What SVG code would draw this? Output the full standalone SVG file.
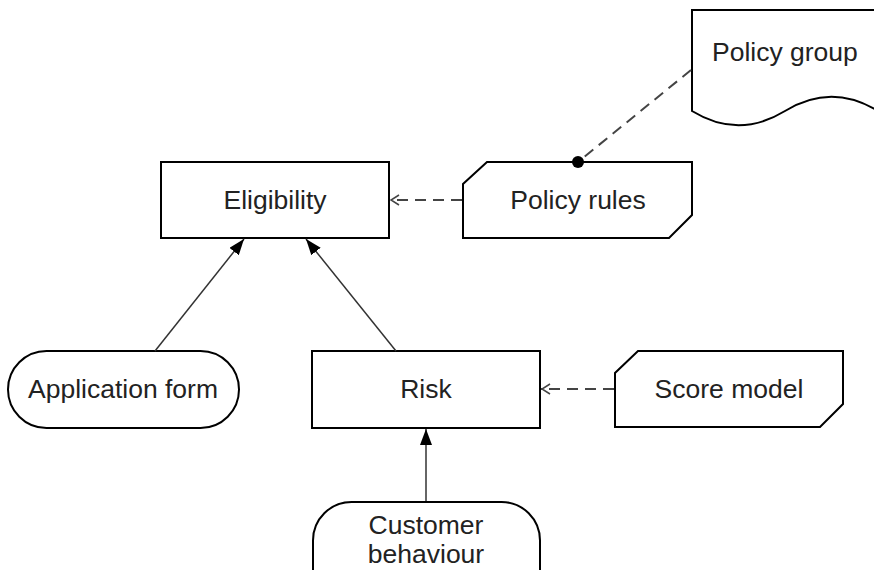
<svg xmlns="http://www.w3.org/2000/svg" width="874" height="570" viewBox="0 0 874 570">
<defs>
<style>
.shape{fill:#fff;stroke:#000;stroke-width:2}
.lbl{font-family:"Liberation Sans",Arial,sans-serif;font-size:26.5px;fill:#222;text-anchor:middle}
.solid{stroke:#333;stroke-width:1.5;fill:none}
.dash{stroke:#444;stroke-width:2;fill:none;stroke-dasharray:11 7}
</style>
<marker id="tri" viewBox="0 0 16 12" refX="16" refY="6" markerWidth="16" markerHeight="12" markerUnits="userSpaceOnUse" orient="auto">
<path d="M0,0 L16,6 L0,12 Z" fill="#000"/>
</marker>
<marker id="open" viewBox="0 0 10 12" refX="10" refY="6" markerWidth="10" markerHeight="12" markerUnits="userSpaceOnUse" orient="auto">
<path d="M1,1 L9,6 L1,11" fill="none" stroke="#444" stroke-width="1.5"/>
</marker>
<marker id="dot" viewBox="0 0 14 14" refX="7" refY="7" markerWidth="14" markerHeight="14" markerUnits="userSpaceOnUse">
<circle cx="7" cy="7" r="6" fill="#000"/>
</marker>
</defs>
<rect width="874" height="570" fill="#fff"/>
<g id="eligibility">
<rect class="shape" x="161" y="162" width="228" height="76"/>
<text class="lbl" x="275" y="209">Eligibility</text>
</g>
<g id="policy-rules">
<path class="shape" d="M487,162 H692 V215 L669,238 H463 V184 Z"/>
<text class="lbl" x="578" y="209">Policy rules</text>
</g>
<g id="policy-group">
<path class="shape" d="M692,10 H971 V111 C940,130 909,130 878,111 C847,92 816,92 785,111 C754,130 723,130 692,111 Z"/>
<text class="lbl" x="712" y="61" style="text-anchor:start">Policy group</text>
</g>
<g id="application-form">
<rect class="shape" x="8" y="351" width="231" height="77" rx="38.5" ry="38.5"/>
<text class="lbl" x="123" y="398">Application form</text>
</g>
<g id="risk">
<rect class="shape" x="312" y="351" width="228" height="77"/>
<text class="lbl" x="426" y="398">Risk</text>
</g>
<g id="score-model">
<path class="shape" d="M638,351 H843 V404 L820,427 H615 V373 Z"/>
<text class="lbl" x="729" y="398">Score model</text>
</g>
<g id="customer-behaviour">
<rect class="shape" x="313" y="502" width="227" height="110" rx="38.5" ry="38.5"/>
<text class="lbl" x="426" y="534">Customer</text>
<text class="lbl" x="426" y="563">behaviour</text>
</g>
<g id="connectors">
<line class="solid" x1="155" y1="351" x2="244" y2="239" marker-end="url(#tri)"/>
<line class="solid" x1="396" y1="351" x2="306" y2="239" marker-end="url(#tri)"/>
<line class="solid" x1="426" y1="501" x2="426" y2="429" marker-end="url(#tri)"/>
<line class="dash" x1="462" y1="200" x2="390" y2="200" marker-end="url(#open)"/>
<line class="dash" x1="614" y1="389" x2="541" y2="389" marker-end="url(#open)"/>
<line class="dash" x1="691" y1="70" x2="578" y2="162" marker-end="url(#dot)"/>
</g>
</svg>
